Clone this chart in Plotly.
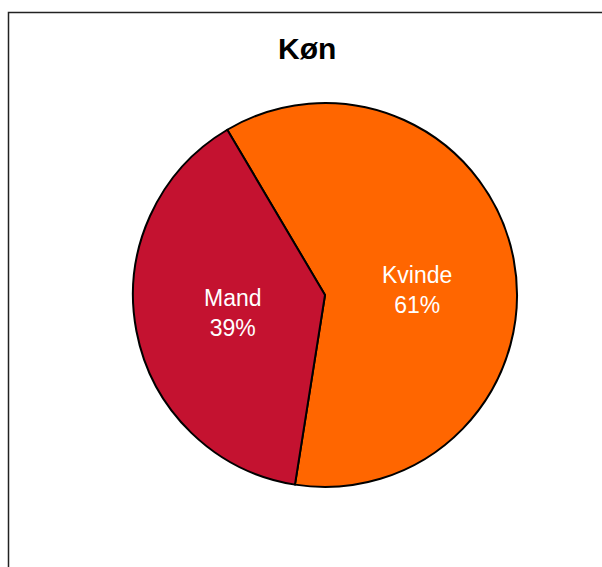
import math
import plotly.graph_objects as go

W, H = 602, 567

# Data
labels = ["Kvinde", "Mand"]
values = [61, 39]
colors = ["#FF6600", "#C41230"]
title_text = "Køn"

# Pie geometry in pixels
cx, cy, r = 325, 295, 192
rotation = -30.6          # start angle of the first slice, degrees clockwise from 12 o'clock
label_r = 0.49            # label distance from centre, fraction of radius
label_dy = [13, 0]        # extra downward nudge per label, px

FONT = "Liberation Sans, Arial, sans-serif"

fig = go.Figure(
    go.Pie(
        labels=labels,
        values=values,
        sort=False,
        direction="clockwise",
        rotation=rotation,
        marker=dict(colors=colors, line=dict(color="black", width=2)),
        textinfo="none",
        showlegend=False,
        hoverinfo="label+percent",
        domain=dict(x=[(cx - r) / W, (cx + r) / W], y=[1 - (cy + r) / H, 1 - (cy - r) / H]),
    )
)

# Slice labels at each slice's mid-angle
total = sum(values)
start = rotation
for lab, val, dy in zip(labels, values, label_dy):
    span = 360.0 * val / total
    mid = math.radians(start + span / 2)
    px = cx + label_r * r * math.sin(mid)
    py = cy - label_r * r * math.cos(mid) + dy
    fig.add_annotation(
        text="%s<br>%d%%" % (lab, round(100 * val / total)),
        xref="paper", yref="paper", x=px / W, y=1 - py / H,
        xanchor="center", yanchor="middle", showarrow=False, align="center",
        font=dict(family=FONT, size=23, color="white"),
    )
    start += span

# Chart frame
fig.add_shape(
    type="rect", xref="paper", yref="paper",
    x0=8.5 / W, x1=1.05, y0=-0.05, y1=1 - 12.5 / H,
    line=dict(color="#222222", width=1.5), fillcolor="rgba(0,0,0,0)", layer="below",
)

fig.add_annotation(
    text="<b>%s</b>" % title_text, xref="paper", yref="paper",
    x=307 / W, y=1 - 49 / H, xanchor="center", yanchor="middle", showarrow=False,
    font=dict(family=FONT, size=30, color="black"),
)

fig.update_layout(
    width=W, height=H,
    margin=dict(l=0, r=0, t=0, b=0),
    paper_bgcolor="white", plot_bgcolor="white",
)

fig.write_html("out.html")
